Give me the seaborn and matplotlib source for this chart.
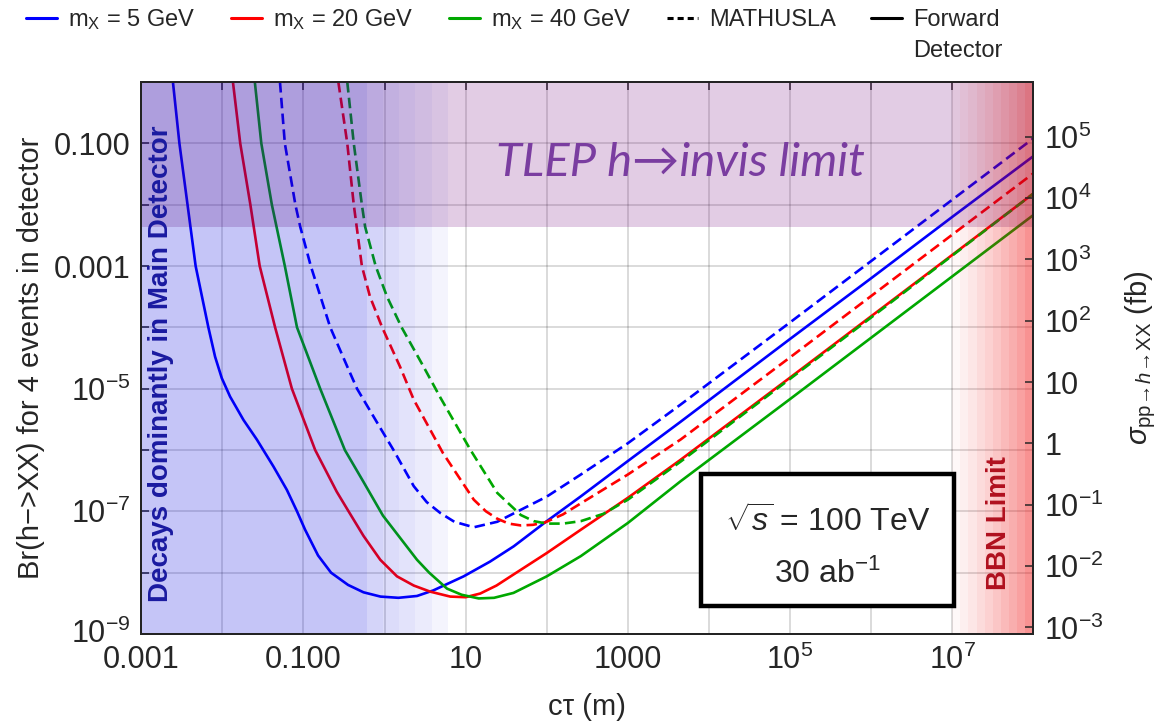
import numpy as np
import matplotlib
matplotlib.use("Agg")
import matplotlib.pyplot as plt
import matplotlib.transforms as mtrans
import seaborn as sns
from matplotlib.lines import Line2D
from matplotlib.patches import Rectangle

# ---------------- data (log10 values) ----------------
# Forward detector curves
logct_fd_5 = [-2.61, -2.53, -2.43, -2.33, -2.173, -2.09, -2.007, -1.905, -1.74, -1.575,
              -1.37, -1.205, -1.08, -0.98, -0.82, -0.66, -0.45, -0.26, -0.05, 0.17, 0.40,
              0.60, 0.975, 1.30, 1.593, 1.98, 2.416, 3.0, 3.65, 5.0, 6.0, 7.0, 8.0]
logbr_fd_5 = [0.0, -1.0, -2.0, -3.0, -4.0, -4.48, -4.83, -5.13, -5.51, -5.83,
              -6.27, -6.65, -7.0, -7.30, -7.72, -8.0, -8.2, -8.32, -8.39, -8.41, -8.38,
              -8.29, -8.06, -7.82, -7.57, -7.18, -6.76, -6.18, -5.54, -4.19, -3.2, -2.2, -1.21]

logct_fd_20 = [-1.87, -1.78, -1.655, -1.54, -1.35, -1.143, -0.856, -0.59, -0.444, -0.26,
               -0.053, 0.153, 0.36, 0.564, 0.81, 1.0, 1.18, 1.38, 1.59, 2.0, 2.42, 3.0, 3.65,
               5.0, 6.0, 7.0, 8.0]
logbr_fd_20 = [0.0, -1.0, -2.0, -3.0, -4.0, -5.0, -6.0, -6.68, -7.0, -7.40,
               -7.79, -8.06, -8.21, -8.31, -8.39, -8.40, -8.34, -8.21, -8.03, -7.68, -7.30,
               -6.78, -6.16, -4.82, -3.82, -2.82, -1.82]

logct_fd_40 = [-1.60, -1.52, -1.39, -1.23, -1.08, -0.794, -0.49, -0.26, -0.02, 0.40, 0.55,
               0.77, 0.95, 1.16, 1.35, 1.59, 2.0, 2.42, 3.0, 3.65, 5.0, 6.0, 7.0, 8.0]
logbr_fd_40 = [0.0, -1.0, -2.0, -3.0, -4.0, -5.0, -6.0, -6.52, -7.07, -7.79, -8.0,
               -8.26, -8.36, -8.42, -8.41, -8.33, -8.06, -7.73, -7.19, -6.51, -5.17, -4.17,
               -3.17, -2.17]

# MATHUSLA curves
logct_ma_5 = [-1.29, -1.23, -1.10, -1.04, -0.91, -0.67, -0.46, -0.34, -0.053, 0.11, 0.36,
              0.52, 0.69, 0.86, 1.10, 1.39, 2.0, 2.42, 3.0, 3.65, 5.0, 6.0, 7.0, 8.0]
logbr_ma_5 = [0.0, -1.0, -2.0, -2.36, -3.0, -4.0, -4.64, -5.0, -5.64, -6.0, -6.59,
              -6.85, -7.03, -7.17, -7.26, -7.17, -6.76, -6.40, -5.89, -5.26, -3.92, -2.92,
              -1.92, -0.92]

logct_ma_20 = [-0.57, -0.46, -0.38, -0.28, -0.18, -0.03, 0.19, 0.36, 0.72, 1.10, 1.25, 1.39,
               1.53, 1.68, 1.83, 1.98, 2.2, 2.42, 3.0, 3.65, 5.0, 6.0, 7.0, 8.0]
logbr_ma_20 = [0.0, -1.0, -2.0, -3.0, -3.5, -4.0, -4.64, -5.18, -6.05, -6.81, -7.0, -7.12,
               -7.20, -7.23, -7.22, -7.18, -7.05, -6.87, -6.40, -5.83, -4.49, -3.49, -2.49,
               -1.49]

logct_ma_40 = [-0.46, -0.38, -0.28, -0.24, -0.11, 0.03, 0.21, 0.48, 0.69, 1.06, 1.39, 1.68,
               1.84, 2.0, 2.2, 2.42, 2.7, 3.0, 3.65, 5.0, 6.0, 7.0, 8.0]
logbr_ma_40 = [0.0, -1.0, -2.0, -2.36, -3.0, -3.5, -4.0, -4.64, -5.15, -6.0, -6.70, -7.06,
               -7.16, -7.20, -7.20, -7.16, -7.04, -6.81, -6.19, -4.84, -3.84, -2.83, -1.82]

series_labels = ["m$_{\\rm X}$ = 5 GeV", "m$_{\\rm X}$ = 20 GeV", "m$_{\\rm X}$ = 40 GeV"]
series_colors = ["#0000ff", "#ff0000", "#00a800"]

# regions
tlep_log_limit = -2.36
blue_edges_log = [-3.0, -0.22, -0.02, 0.18, 0.38, 0.58, 0.78]
blue_levels = [1.0, 0.74, 0.60, 0.48, 0.34, 0.19]
bbn_edges_log = [7.0, 7.1, 7.2, 7.3, 7.4, 7.5, 7.6, 7.7, 7.8, 7.9, 8.0]
bbn_levels = [0.06, 0.14, 0.22, 0.31, 0.40, 0.50, 0.60, 0.70, 0.82, 0.95]

sigma_per_br = 7.8e5  # fb, right axis scale

x_tick_exp = [-3, -2, -1, 0, 1, 2, 3, 4, 5, 6, 7, 8]
x_tick_labels = ["0.001", "", "0.100", "", "10", "", "1000", "", "$10^{5}$", "", "$10^{7}$", ""]
y_tick_exp = [-9, -8, -7, -6, -5, -4, -3, -2, -1, 0]
y_tick_labels = ["$10^{-9}$", "", "$10^{-7}$", "", "$10^{-5}$", "", "0.001", "", "0.100", ""]
r_tick_exp = [-3, -2, -1, 0, 1, 2, 3, 4, 5]
r_tick_labels = ["$10^{-3}$", "$10^{-2}$", "$10^{-1}$", "1", "10",
                 "$10^{2}$", "$10^{3}$", "$10^{4}$", "$10^{5}$"]

# ---------------- style ----------------
sns.set_style("white")
plt.rcParams["font.family"] = ["Liberation Sans", "DejaVu Sans"]
plt.rcParams["mathtext.fontset"] = "custom"
plt.rcParams["mathtext.rm"] = "Liberation Sans"
plt.rcParams["mathtext.it"] = "Liberation Sans:italic"
plt.rcParams["mathtext.bf"] = "Liberation Sans:bold"

W, H = 1162, 724
fig = plt.figure(figsize=(W / 100, H / 100), dpi=100)
ax = fig.add_axes([141.3 / W, 1 - 634 / H, 892 / W, 552 / H])
ax.set_xscale("log")
ax.set_yscale("log")
ax.set_xlim(1e-3, 1e8)
ax.set_ylim(1e-9, 1)

# ---------------- curves ----------------
dash = (0, (4, 2))
curves = [
    (logct_fd_5, logbr_fd_5, series_colors[0], "-"),
    (logct_fd_20, logbr_fd_20, series_colors[1], "-"),
    (logct_fd_40, logbr_fd_40, series_colors[2], "-"),
    (logct_ma_5, logbr_ma_5, series_colors[0], dash),
    (logct_ma_20, logbr_ma_20, series_colors[1], dash),
    (logct_ma_40, logbr_ma_40, series_colors[2], dash),
]
for lx, ly, col, ls in curves:
    sns.lineplot(x=np.power(10.0, lx), y=np.power(10.0, ly), ax=ax, color=col,
                 linewidth=1.9, linestyle=ls, sort=False, estimator=None, zorder=2,
                 solid_joinstyle="round")


# ---------------- shaded regions (drawn over lines, tinting them) ----------------
def mix(rgb, f):
    return tuple(255 - (255 - c) * f for c in rgb)


def mult(a, b):
    return tuple(x * y / 255 for x, y in zip(a, b))


def overlay(x0, x1, y0, y1, rgb):
    t = np.array(rgb) / 255.0
    a = max(1 - t.min(), 0.02)
    c = np.clip(1 - (1 - t) / a, 0, 1)
    ax.fill_between([10 ** x0, 10 ** x1], [10 ** y0] * 2, [10 ** y1] * 2, color=c, alpha=a,
                    lw=0, zorder=3, antialiased=False)


blue_rgb = (197, 197, 248)
purple_rgb = (226, 204, 228)
red_rgb = (248, 140, 140)

for i, f in enumerate(blue_levels):
    x0, x1 = blue_edges_log[i], blue_edges_log[i + 1]
    c = mix(blue_rgb, f)
    overlay(x0, x1, -9, tlep_log_limit, c)
    overlay(x0, x1, tlep_log_limit, 0, mult(c, purple_rgb))
overlay(blue_edges_log[-1], bbn_edges_log[0], tlep_log_limit, 0, purple_rgb)
for i, f in enumerate(bbn_levels):
    x0, x1 = bbn_edges_log[i], bbn_edges_log[i + 1]
    c = mix(red_rgb, f)
    overlay(x0, x1, -9, tlep_log_limit, c)
    overlay(x0, x1, tlep_log_limit, 0, mult(c, purple_rgb))

# ---------------- axes, ticks, grid ----------------
ax.set_xticks([10.0 ** e for e in x_tick_exp], x_tick_labels)
ax.set_yticks([10.0 ** e for e in y_tick_exp], y_tick_labels)
ax.minorticks_off()
ax.grid(True, which="major", color="black", alpha=0.17, lw=1.2)
for ln in ax.get_xgridlines() + ax.get_ygridlines():
    ln.set_zorder(3.5)
ax.tick_params(axis="both", which="major", direction="in", length=6, width=1.1,
               labelsize=22, top=True, pad=8)
for s in ax.spines.values():
    s.set_linewidth(1.3)
    s.set_color("black")
    s.set_zorder(5)

ax.set_xlabel("c\u03c4 (m)", fontsize=21, labelpad=12)
ax.set_ylabel("Br(h\u2212>XX) for 4 events in detector", fontsize=21, labelpad=6)

ax2 = ax.twinx()
ax2.set_yscale("log")
ax2.set_ylim(1e-9 * sigma_per_br, 1.0 * sigma_per_br)
ax2.set_yticks([10.0 ** e for e in r_tick_exp], r_tick_labels)
ax2.minorticks_off()
ax2.tick_params(axis="y", which="major", direction="in", length=6, width=1.1,
                labelsize=22, pad=8)
ax2.set_ylabel(r"$\sigma_{\rm pp\!\rightarrow\!\mathit{h}\!\rightarrow\!XX}$ (fb)",
               fontsize=21, labelpad=14)
for s in ax2.spines.values():
    s.set_linewidth(1.3)

# nudge the lowest left tick label up a little, as in the reference
lbl = ax.yaxis.get_major_ticks()[0].label1
lbl.set_transform(lbl.get_transform() + mtrans.ScaledTranslation(0, 2 / 72, fig.dpi_scale_trans))

# ---------------- annotations ----------------
ax.text(0.604, 0.853, "TLEP h\u2192invis limit", transform=ax.transAxes, fontsize=34,
        style="italic", color="#7a3da0", ha="center", va="center",
        family=["Lato", "DejaVu Sans"], zorder=6)
ax.text(0.022, 0.49, "Decays dominantly in Main Detector", transform=ax.transAxes,
        rotation=90, fontsize=20, fontweight="bold", color="#1a1aa0",
        ha="center", va="center", zorder=6)
ax.text(0.961, 0.201, "BBN Limit", transform=ax.transAxes, rotation=90, fontsize=20,
        fontweight="bold", color="#b0101e", ha="center", va="center", zorder=6)

bx0, bx1 = (701 - 141.3) / 892, (954 - 141.3) / 892
by0, by1 = (634 - 606) / 552, (634 - 474) / 552
ax.add_patch(Rectangle((bx0, by0), bx1 - bx0, by1 - by0, transform=ax.transAxes,
                       facecolor="white", edgecolor="black", lw=3.2, zorder=7))
ax.text((bx0 + bx1) / 2, by0 + (by1 - by0) * 0.63, r"$\sqrt{s}$ = 100 TeV",
        transform=ax.transAxes, fontsize=23, ha="center", va="center", zorder=8)
ax.text((bx0 + bx1) / 2, by0 + (by1 - by0) * 0.24, "30 ab$^{-1}$",
        transform=ax.transAxes, fontsize=23, ha="center", va="center", zorder=8)

# ---------------- legend ----------------
handles = [Line2D([], [], color=c, lw=2.2) for c in series_colors]
handles += [Line2D([], [], color="black", lw=2.2, linestyle=(0, (2, 1.3))),
            Line2D([], [], color="black", lw=2.2)]
labels = series_labels + ["MATHUSLA", "Forward"]
leg = fig.legend(handles, labels, loc="upper left", bbox_to_anchor=(26 / W, 1 - 7 / H),
                 ncol=5, frameon=False, fontsize=17, handlelength=1.31, handletextpad=0.47,
                 columnspacing=1.5, borderpad=0, borderaxespad=0)
fig.canvas.draw()
r = fig.canvas.get_renderer()
bb = leg.get_texts()[-1].get_window_extent(r)
fig.text(bb.x0 / W, (bb.y0 - 31) / H, "Detector", fontsize=17, ha="left", va="bottom")

fig.savefig("out.png", dpi=100)
